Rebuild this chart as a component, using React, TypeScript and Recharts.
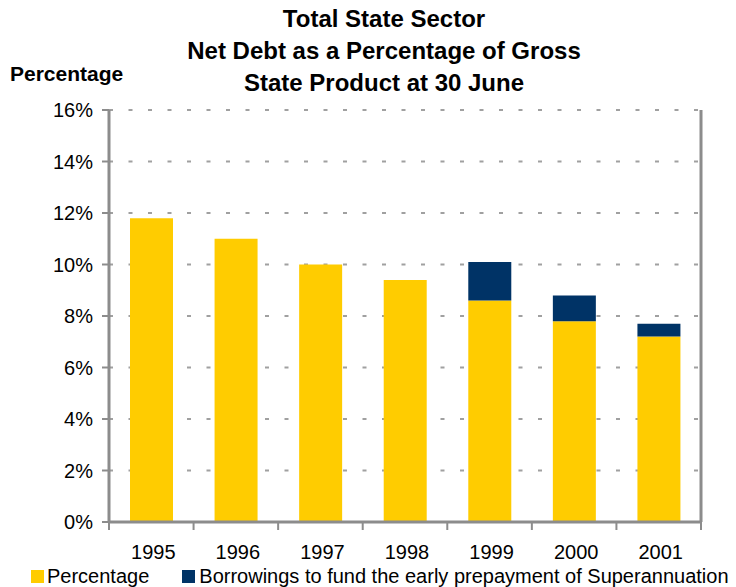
import { BarChart, Bar, XAxis, YAxis, CartesianGrid } from 'recharts';

const years = ['1995', '1996', '1997', '1998', '1999', '2000', '2001'];
const percentage = [11.8, 11.0, 10.0, 9.4, 8.6, 7.8, 7.2];
const borrowings = [0, 0, 0, 0, 1.5, 1.0, 0.5];
const yTicks = [0, 2, 4, 6, 8, 10, 12, 14, 16];
const titleLines = [
  'Total State Sector',
  'Net Debt as a Percentage of Gross',
  'State Product at 30 June',
];

const data = years.map((year, i) => ({
  year,
  percentage: percentage[i],
  borrowings: borrowings[i],
}));

const FONT = '"Liberation Sans", Arial, sans-serif';
const W = 736;
const H = 587;
const LEFT = 109;
const RIGHT = 35;
const TOP = 110;
const BOTTOM = 65;
const BAND = (W - LEFT - RIGHT) / years.length;
const AXIS = '#8c8c8c';
const YELLOW = '#FFCC00';
const NAVY = '#003366';

// category ticks sit on the band boundaries, labels in the middle
function YearTick(props: any) {
  const { x, y, payload, index } = props;
  return (
    <g>
      <line x1={x - BAND / 2} x2={x - BAND / 2} y1={y} y2={y + 8} stroke={AXIS} strokeWidth={2} />
      {index === years.length - 1 && (
        <line x1={x + BAND / 2} x2={x + BAND / 2} y1={y} y2={y + 8} stroke={AXIS} strokeWidth={2} />
      )}
      <text x={x + 2} y={y + 37} textAnchor="middle" fontSize={20} fontFamily={FONT} fill="#000">
        {payload.value}
      </text>
    </g>
  );
}

function InnerTick(props: any) {
  const { x, y } = props;
  return <line x1={x - 7} x2={x} y1={y} y2={y} stroke="#a0a0a0" strokeWidth={2} />;
}

export default function App() {
  return (
    <div style={{ position: 'absolute', left: 0, top: 0, width: W, height: H, background: '#fff', fontFamily: FONT }}>
      {titleLines.map((line, i) => (
        <div
          key={line}
          style={{
            position: 'absolute',
            left: 0,
            width: 768,
            top: 5 + i * 32,
            textAlign: 'center',
            fontSize: 24,
            fontWeight: 'bold',
            lineHeight: '28px',
          }}
        >
          {line}
        </div>
      ))}
      <div style={{ position: 'absolute', left: 10, top: 62, fontSize: 21, fontWeight: 'bold', lineHeight: '24px' }}>
        Percentage
      </div>

      <BarChart
        width={W}
        height={H}
        data={data}
        margin={{ top: TOP, right: 0, bottom: 0, left: 0 }}
        barSize={43}
      >
        <CartesianGrid
          vertical={false}
          stroke="#a0a0a0"
          strokeWidth={2}
          strokeDasharray="4 15.5"
          yAxisId="left"
        />
        <XAxis
          dataKey="year"
          height={BOTTOM}
          axisLine={{ stroke: AXIS, strokeWidth: 3 }}
          tickLine={false}
          tickSize={0}
          tickMargin={0}
          interval={0}
          tick={<YearTick />}
        />
        <XAxis xAxisId="top" dataKey="year" orientation="top" height={0} tick={false} tickLine={false}
          axisLine={{ stroke: AXIS, strokeWidth: 3 }} />
        <YAxis
          yAxisId="left"
          width={LEFT}
          domain={[0, 16]}
          ticks={yTicks}
          interval={0}
          tickFormatter={(v: number) => `${v}%`}
          axisLine={{ stroke: AXIS, strokeWidth: 3 }}
          tickLine={{ stroke: AXIS, strokeWidth: 2 }}
          tickSize={7}
          tickMargin={9}
          tick={{ fontSize: 20, fill: '#000', fontFamily: FONT }}
        />
        <YAxis
          yAxisId="right"
          orientation="right"
          width={RIGHT}
          domain={[0, 16]}
          ticks={yTicks.slice(1, -1)}
          interval={0}
          axisLine={{ stroke: AXIS, strokeWidth: 3 }}
          tickLine={false}
          tickSize={0}
          tickMargin={0}
          tick={<InnerTick />}
        />
        <Bar dataKey="percentage" stackId="a" yAxisId="left" fill={YELLOW} isAnimationActive={false} />
        <Bar dataKey="borrowings" stackId="a" yAxisId="left" fill={NAVY} isAnimationActive={false} />
      </BarChart>

      <div style={{ position: 'absolute', left: 0, top: 565, display: 'flex', alignItems: 'center', fontSize: 20, lineHeight: '22px' }}>
        <span style={{ display: 'inline-block', width: 13, height: 13, background: YELLOW, marginLeft: 31, marginRight: 3 }} />
        <span>Percentage</span>
        <span style={{ display: 'inline-block', width: 13, height: 13, background: NAVY, marginLeft: 33, marginRight: 4 }} />
        <span style={{ whiteSpace: 'nowrap' }}>Borrowings to fund the early prepayment of Superannuation</span>
      </div>
    </div>
  );
}
